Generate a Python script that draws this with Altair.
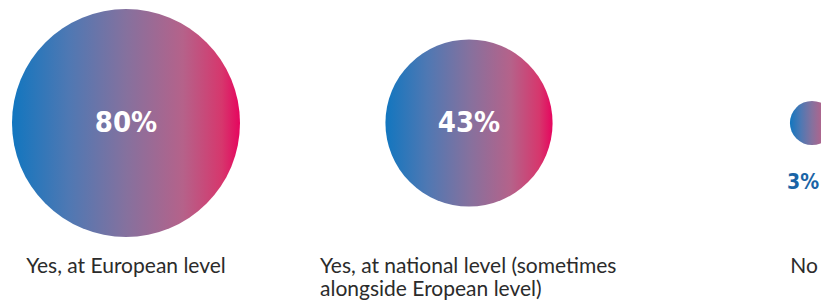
import altair as alt
import pandas as pd

# ---- data ----
categories = [
    "Yes, at European level",
    "Yes, at national level (sometimes\nalongside Eropean level)",
    "No",
]
values = [80, 43, 3]
value_labels = ["80%", "43%", "3%"]
order = [0, 1, 2]

df = pd.DataFrame({
    "idx": order,
    "category": categories,
    "value": values,
    "label": value_labels,
})

W, H = 813, 292

xscale = alt.Scale(domain=[-0.344, 2.0262], nice=False, zero=False)
yscale = alt.Scale(domain=[-1.539, 1], nice=False, zero=False)

grad = alt.LinearGradient(
    gradient="linear",
    stops=[
        alt.GradientStop(offset=0.0, color="#1276bf"),
        alt.GradientStop(offset=0.25, color="#4f78b3"),
        alt.GradientStop(offset=0.5, color="#85719e"),
        alt.GradientStop(offset=0.75, color="#b5628a"),
        alt.GradientStop(offset=0.92, color="#d6376d"),
        alt.GradientStop(offset=1.0, color="#e6055e"),
    ],
    x1=0, x2=1, y1=0, y2=0,
)

base = alt.Chart(df).encode(
    x=alt.X("idx:Q", scale=xscale, axis=None),
    y=alt.datum(0, scale=yscale, axis=None),
)

circles = base.mark_circle(fill=grad, opacity=1, strokeWidth=0, clip=True).encode(
    size=alt.Size("value:Q", scale=alt.Scale(domain=[0, 80], range=[0, 51984]), legend=None)
)

num_font = "'Liberation Sans Narrow', 'DejaVu Sans Condensed', Roboto, sans-serif"

inside = base.transform_filter("datum.value >= 10").mark_text(
    font=num_font, fontWeight="bold", fontSize=29,
    color="white", baseline="alphabetic", dy=9,
).encode(text="label:N")

below = base.transform_filter("datum.value < 10").mark_text(
    font=num_font, fontWeight="bold", fontSize=21,
    color="#1a64a6", baseline="alphabetic", dx=-9, dy=66,
).encode(text="label:N")

cat_style = dict(font="Lato", fontSize=21, color="#2b2b2b",
                 baseline="alphabetic", lineBreak="\n", lineHeight=23)

cat0 = base.transform_filter("datum.idx == 0").mark_text(
    align="center", dy=150, **cat_style).encode(text="category:N")
cat1 = base.transform_filter("datum.idx == 1").mark_text(
    align="left", dx=-149, dy=150, **cat_style).encode(text="category:N")
cat2 = base.transform_filter("datum.idx == 2").mark_text(
    align="center", dx=-8, dy=150, **cat_style).encode(text="category:N")

chart = alt.layer(circles, inside, below, cat0, cat1, cat2).properties(
    width=W, height=H, padding=0,
    autosize=alt.AutoSizeParams(type="none"),
).configure_view(stroke=None)

chart.save("out.html", embed_options={"renderer": "svg", "actions": False})
